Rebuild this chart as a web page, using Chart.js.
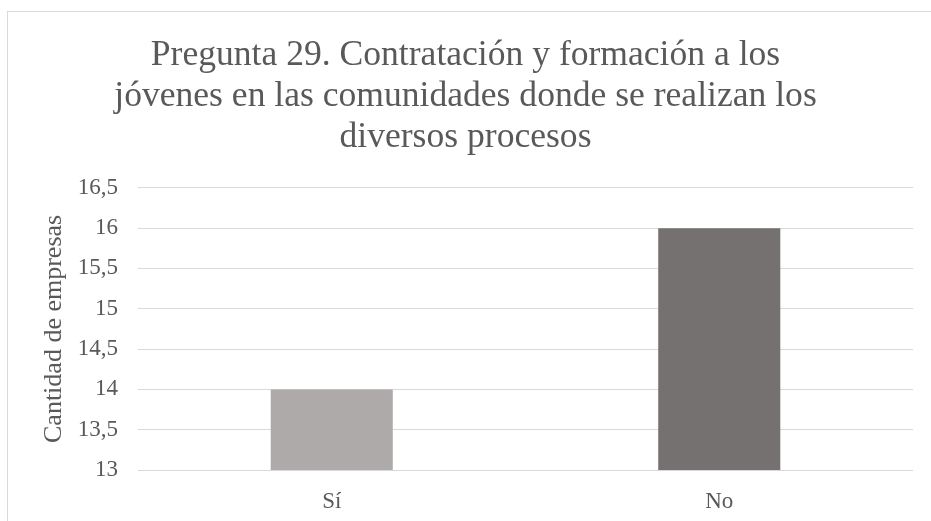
<!DOCTYPE html>
<html>
<head>
<meta charset="utf-8">
<script src="https://cdn.jsdelivr.net/npm/chart.js@4"></script>
<style>
  html, body { margin: 0; padding: 0; background: #fff; }
  #wrap { position: relative; width: 931px; height: 521px; overflow: hidden; }
  #frame { position: absolute; left: 7px; top: 11px; width: 950px; height: 540px; border: 1px solid #d9d9d9; box-sizing: border-box; }
  canvas { position: absolute; left: 0; top: 0; }
</style>
</head>
<body>
<div id="wrap">
  <div id="frame"></div>
  <canvas id="chart" width="931" height="521"></canvas>
</div>
<script>
// Chart data
const categories = ["Sí", "No"];
const values = [14, 16];
const barColors = ["#aeaaaa", "#767171"];
const titleLines = [
  "Pregunta 29. Contratación y formación a los",
  "jóvenes en las comunidades donde se realizan los",
  "diversos procesos"
];
const yTitle = "Cantidad de empresas";
const yMin = 13, yMax = 16.5, yStep = 0.5;

const textColor = "#595959";
const serif = "'Liberation Serif', 'Times New Roman', serif";

new Chart(document.getElementById("chart"), {
  type: "bar",
  data: {
    labels: categories,
    datasets: [{
      data: values,
      backgroundColor: barColors,
      barPercentage: 0.315,
      categoryPercentage: 1
    }]
  },
  options: {
    responsive: false,
    animation: false,
    layout: { padding: { left: 18, right: 18, top: 35, bottom: 0 } },
    plugins: {
      legend: { display: false },
      tooltip: { enabled: false },
      title: {
        display: true,
        text: titleLines,
        color: textColor,
        font: { family: serif, size: 35.6, weight: "normal", lineHeight: 1.15 },
        padding: { top: 0, bottom: 30 }
      }
    },
    scales: {
      x: {
        grid: { display: false },
        border: { display: false },
        ticks: { color: textColor, font: { family: serif, size: 23 }, padding: 10 },
        afterFit: s => { s.height = 51; }
      },
      y: {
        min: yMin,
        max: yMax,
        grid: { color: "#d9d9d9", lineWidth: 1, drawTicks: false },
        border: { display: false },
        ticks: {
          stepSize: yStep,
          color: textColor,
          font: { family: serif, size: 23 },
          padding: 20,
          callback: v => String(v).replace(".", ",")
        },
        title: {
          display: true,
          text: yTitle,
          color: textColor,
          font: { family: serif, size: 26 },
          padding: { top: 21, bottom: 0 }
        },
        afterFit: s => { s.width = 120; }
      }
    }
  }
});
</script>
</body>
</html>
